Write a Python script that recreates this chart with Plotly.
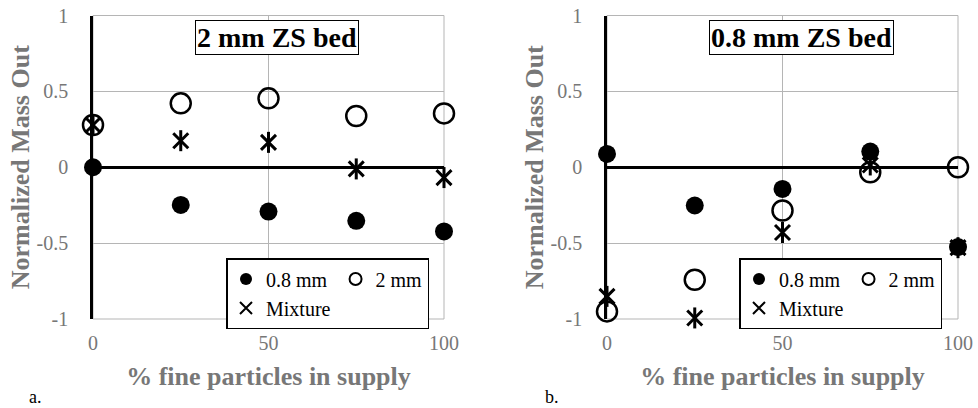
import plotly.graph_objects as go

# Supply composition (% fine particles)
fine_pct = [0, 25, 50, 75, 100]

# 2 mm ZS bed
bed2_fine = [0.0, -0.248, -0.292, -0.353, -0.423]
bed2_coarse = [0.278, 0.421, 0.454, 0.338, 0.355]
bed2_mix = [0.278, 0.175, 0.164, -0.011, -0.068]

# 0.8 mm ZS bed
bed08_fine = [0.088, -0.252, -0.143, 0.103, -0.526]
bed08_coarse = [-0.95, -0.741, -0.285, -0.033, 0.0]
bed08_mix = [-0.851, -0.993, -0.43, 0.015, -0.53]

series_names = ["0.8 mm", "2 mm", "Mixture"]
x_ticks = [0, 50, 100]
x_ticktext = ["0", "50", "100"]
y_ticks = [-1, -0.5, 0, 0.5, 1]
y_ticktext = ["-1", "-0.5", "0", "0.5", "1"]
panel_titles = ["2 mm ZS bed", "0.8 mm ZS bed"]
panel_tags = ["a.", "b."]
x_title = "% fine particles in supply"
y_title = "Normalized Mass Out"

W, H = 978, 408
SERIF = "Liberation Serif"
GRAY = "#777777"
GRID = "#b5b5b5"

fig = go.Figure()


def add_panel(idx, fine, coarse, mix):
    xa = "x" if idx == 0 else "x2"
    ya = "y" if idx == 0 else "y2"
    leg = "legend" if idx == 0 else "legend2"
    ga, gb = f"g{idx}a", f"g{idx}b"
    common = dict(x=fine_pct, xaxis=xa, yaxis=ya, mode="markers",
                  cliponaxis=False, legend=leg, hoverinfo="skip")
    # Mixture: six-armed star built from an X plus a vertical bar
    fig.add_trace(go.Scatter(y=mix, name=series_names[2], legendgroup=ga,
                             legendrank=3,
                             marker=dict(symbol="x-thin-open", size=15,
                                         color="black",
                                         line=dict(color="black", width=3)),
                             **common))
    fig.add_trace(go.Scatter(y=mix, name=series_names[2], legendgroup=ga,
                             showlegend=False,
                             marker=dict(symbol="line-ns-open", size=15,
                                         color="black",
                                         line=dict(color="black", width=3)),
                             **common))
    fig.add_trace(go.Scatter(y=coarse, name=series_names[1], legendgroup=gb,
                             legendrank=2,
                             marker=dict(symbol="circle-open", size=20,
                                         color="black",
                                         line=dict(color="black", width=2.5)),
                             **common))
    fig.add_trace(go.Scatter(y=fine, name=series_names[0], legendgroup=ga,
                             legendrank=1,
                             marker=dict(symbol="circle", size=18,
                                         color="black",
                                         line=dict(width=0)),
                             **common))


add_panel(0, bed2_fine, bed2_coarse, bed2_mix)
add_panel(1, bed08_fine, bed08_coarse, bed08_mix)

# plot-area geometry in pixels
left_px = [93, 607]
plot_w = 351
top_px, bot_px = 15.5, 319
ydom = [1 - bot_px / H, 1 - top_px / H]

axis_common_x = dict(
    range=[0, 100], tickvals=x_ticks, ticktext=x_ticktext,
    showgrid=True, gridcolor=GRID, gridwidth=1, zeroline=False,
    showline=False, ticks="", ticklabelstandoff=10, automargin=False,
    tickfont=dict(family=SERIF, size=20, color=GRAY),
    title=dict(text=x_title, standoff=13,
               font=dict(family=SERIF, size=26, color=GRAY, weight="bold")),
    fixedrange=True,
)
axis_common_y = dict(
    range=[-1, 1], tickvals=y_ticks, ticktext=y_ticktext,
    showgrid=True, gridcolor=GRID, gridwidth=1,
    zeroline=True, zerolinecolor="black", zerolinewidth=2.5,
    showline=True, linecolor="black", linewidth=2.5,
    ticks="", ticklabelstandoff=18, automargin=False,
    tickfont=dict(family=SERIF, size=20, color=GRAY),
    title=dict(text=y_title, standoff=0,
               font=dict(family=SERIF, size=26, color=GRAY, weight="bold")),
    fixedrange=True,
)

layout = dict(
    width=W, height=H,
    margin=dict(l=0, r=0, t=0, b=0),
    paper_bgcolor="white", plot_bgcolor="white",
    xaxis=dict(domain=[left_px[0] / W, (left_px[0] + plot_w) / W],
               anchor="y", **axis_common_x),
    yaxis=dict(domain=ydom, anchor="x", **axis_common_y),
    xaxis2=dict(domain=[left_px[1] / W, (left_px[1] + plot_w) / W],
                anchor="y2", **axis_common_x),
    yaxis2=dict(domain=ydom, anchor="x2", **axis_common_y),
    showlegend=True,
)

legend_common = dict(
    orientation="h", traceorder="grouped", itemsizing="constant",
    xanchor="left", yanchor="top", y=1 - 258 / H,
    bgcolor="white", bordercolor="black", borderwidth=1.5,
    font=dict(family=SERIF, size=20, color="black"),
    itemclick=False, itemdoubleclick=False,
)
layout["legend"] = dict(x=226 / W, **legend_common)
layout["legend2"] = dict(x=739 / W, **legend_common)

shapes = []
annotations = []
title_centers = [0.524, 0.553]
tag_x = [35, 552]
for i, (xa, ya) in enumerate([("x", "y"), ("x2", "y2")]):
    # light frame around the plotting area
    shapes.append(dict(type="rect", xref=f"{xa} domain", yref=f"{ya} domain",
                       x0=0, x1=1, y0=0, y1=1,
                       line=dict(color=GRID, width=1), layer="below"))
    annotations.append(dict(
        text=panel_titles[i], xref=f"{xa} domain", yref=f"{ya} domain",
        x=title_centers[i], y=1 - 4.5 / (bot_px - top_px),
        xanchor="center", yanchor="top",
        showarrow=False, bgcolor="white", bordercolor="black",
        borderwidth=1, borderpad=1,
        font=dict(family=SERIF, size=28, color="black", weight="bold")))
    annotations.append(dict(
        text=panel_tags[i], xref="paper", yref="paper",
        x=tag_x[i] / W, y=1 - 397 / H, xanchor="center", yanchor="middle",
        showarrow=False,
        font=dict(family=SERIF, size=18, color="black")))

layout["shapes"] = shapes
layout["annotations"] = annotations
fig.update_layout(**layout)

fig.write_html("out.html", config={"displayModeBar": False})
